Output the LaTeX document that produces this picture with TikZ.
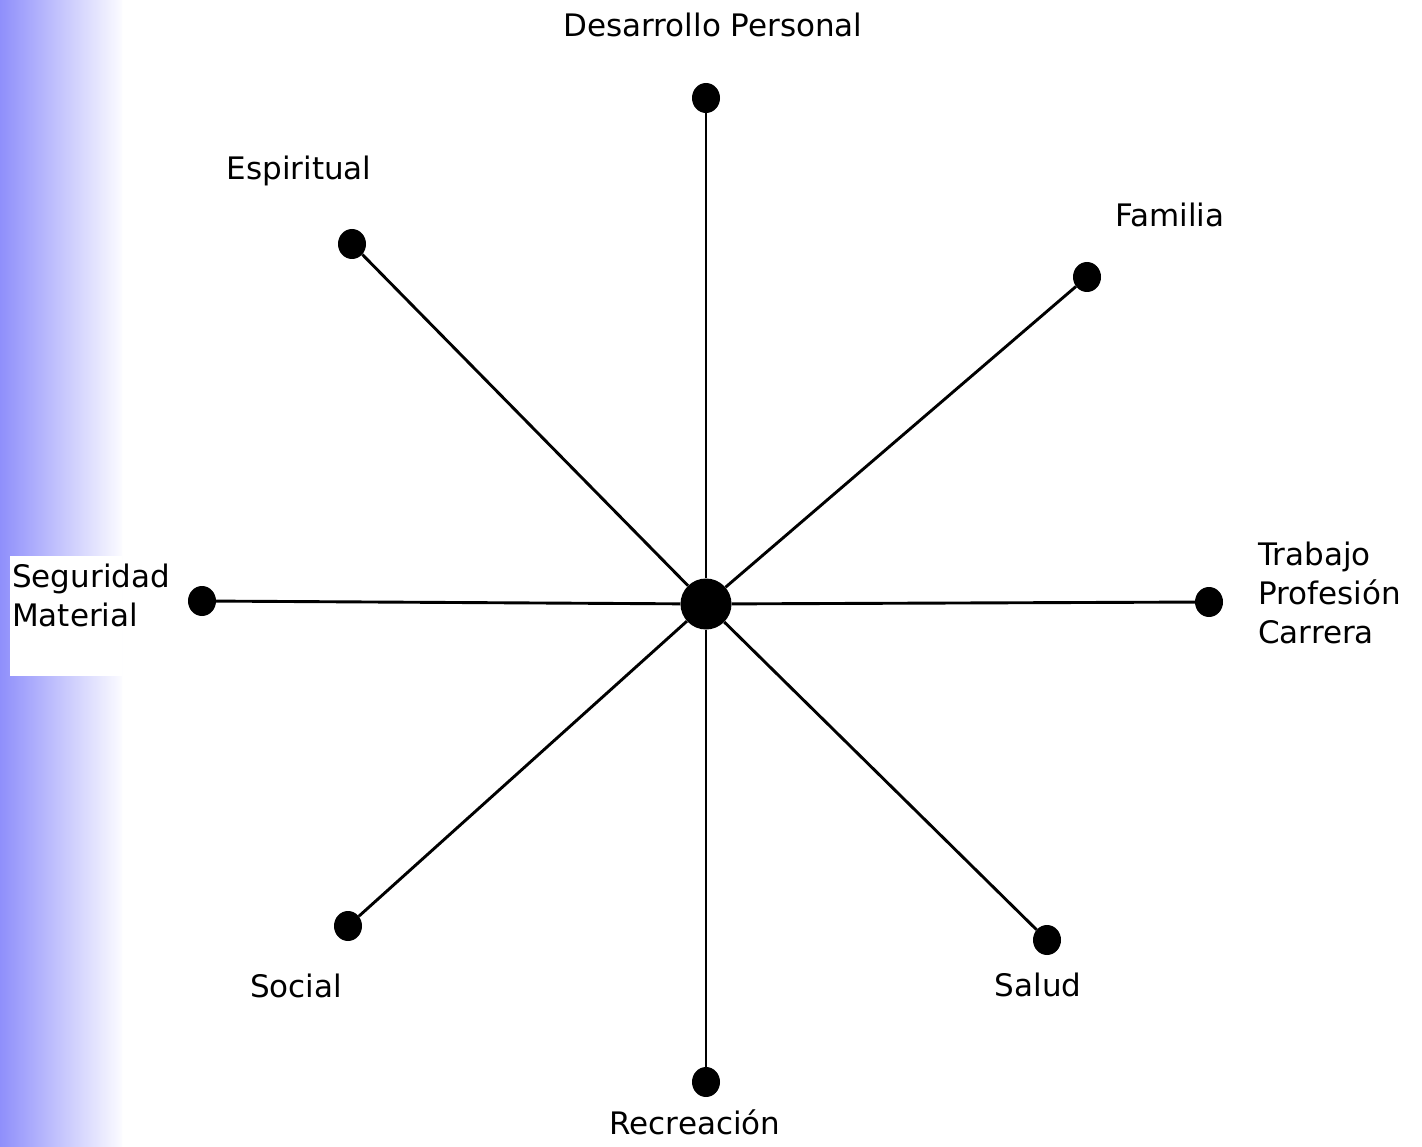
\documentclass[tikz,border=0pt]{standalone}
\usepackage{fontspec}
\setmainfont{DejaVu Sans}
\usetikzlibrary{shapes.geometric}
\definecolor{stripblue}{RGB}{118,118,250}
\begin{document}
\begin{tikzpicture}[x=1pt,y=-1pt,
  dot/.style={ellipse,fill=black,minimum width=28pt,minimum height=30pt,inner sep=0pt},
  hub/.style={circle,fill=black,minimum size=51pt,inner sep=0pt},
  spoke/.style={line width=2.9pt},
  lbl/.style={inner sep=0pt,font=\fontsize{31}{39}\selectfont}]
\path[use as bounding box,fill=white] (0,0) rectangle (1422,1147);
\begin{scope}
\clip (0,0) rectangle (122,1147);
\shade[left color=stripblue,right color=white] (-28,0) rectangle (126,1147);
\end{scope}
\fill[white] (10,556) rectangle (122,676);
\node[hub] (c) at (706,604) {};
\node[dot] (dp) at (706,98) {};
\node[dot] (es) at (352,244) {};
\node[dot] (fa) at (1087,277) {};
\node[dot] (tr) at (1209,602) {};
\node[dot] (sm) at (202,601) {};
\node[dot] (so) at (348,926) {};
\node[dot] (sa) at (1047,940) {};
\node[dot] (re) at (706,1082) {};
\foreach \n in {dp,es,fa,tr,sm,so,sa,re} \draw[spoke] (c) -- (\n);
\node[lbl,anchor=base] (ldp) at (713,37) {Desarrollo Personal};
\node[lbl,anchor=base] (les) at (299,180) {Espiritual};
\node[lbl,anchor=base] (lfa) at (1170,227) {Familia};
\node[lbl,anchor=base west,align=left] (ltr) at (1258,643) {Trabajo\\Profesión\\Carrera};
\node[lbl,anchor=base west,align=left] (lsm) at (12,626) {Seguridad\\Material};
\node[lbl,anchor=base] (lso) at (296,997) {Social};
\node[lbl,anchor=base] (lsa) at (1038,996) {Salud};
\node[lbl,anchor=base] (lre) at (695,1134) {Recreación};
\end{tikzpicture}
\end{document}
